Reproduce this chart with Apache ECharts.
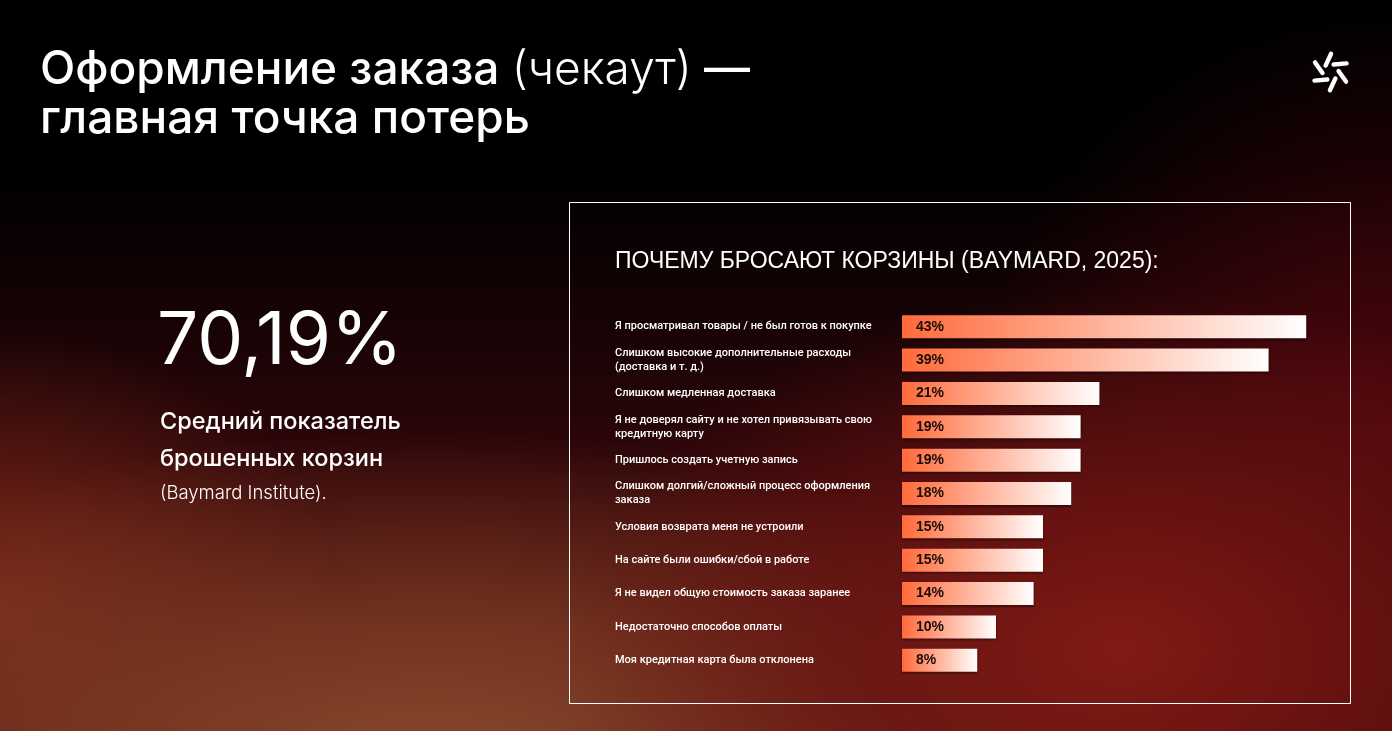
<!DOCTYPE html>
<html><head><meta charset="utf-8">
<script src="https://cdn.jsdelivr.net/npm/echarts@6/dist/echarts.min.js"></script>
<style>
html,body{margin:0;padding:0;width:1392px;height:731px;overflow:hidden;}
body{background:
 radial-gradient(ellipse 560px 360px at 1120px 650px, rgba(128,26,20,1) 0%, rgba(110,20,18,0.75) 45%, rgba(80,10,12,0) 100%),
 radial-gradient(ellipse 760px 340px at 430px 770px, rgba(136,74,46,1) 0%, rgba(125,60,36,0.8) 45%, rgba(110,40,25,0) 100%),
 radial-gradient(ellipse 340px 280px at 0px 610px, rgba(125,42,26,0.95) 0%, rgba(100,30,20,0) 100%),
 radial-gradient(ellipse 420px 420px at 1392px 430px, rgba(80,6,12,0.9) 0%, rgba(60,4,8,0) 100%),
 linear-gradient(180deg, #000 0%, #000 24%, #180305 45%, #36070a 70%, #460a0c 100%);}
#c{width:1392px;height:731px;}
</style></head>
<body><div id="c"></div>
<script>
const categories = [
  'Я просматривал товары / не был готов к покупке',
  'Слишком высокие дополнительные расходы\n(доставка и т. д.)',
  'Слишком медленная доставка',
  'Я не доверял сайту и не хотел привязывать свою\nкредитную карту',
  'Пришлось создать учетную запись',
  'Слишком долгий/сложный процесс оформления\nзаказа',
  'Условия возврата меня не устроили',
  'На сайте были ошибки/сбой в работе',
  'Я не видел общую стоимость заказа заранее',
  'Недостаточно способов оплаты',
  'Моя кредитная карта была отклонена'
];
const values = [43, 39, 21, 19, 19, 18, 15, 15, 14, 10, 8];
const titleLine1Bold = 'Оформление заказа ';
const titleLine1Light = '(чекаут)';
const titleLine1End = ' —';
const titleLine2 = 'главная точка потерь';
const bigNumber = '70,19%';
const bigNumberCaption = ['Средний показатель', 'брошенных корзин'];
const sourceNote = '(Baymard Institute).';
const chartTitle = 'ПОЧЕМУ БРОСАЮТ КОРЗИНЫ (BAYMARD, 2025):';

const chart = echarts.init(document.getElementById('c'), null, {renderer: 'canvas'});

// logo blades
const logo = [];
const cx = 1330.5, cy = 72, r = 12.5, half = 6.5;
for (let i = 0; i < 6; i++) {
  const th = (-100 + i * 60) * Math.PI / 180;
  const ph = th + 35 * Math.PI / 180;
  const mx = cx + r * Math.cos(th), my = cy + r * Math.sin(th);
  logo.push({
    type: 'line',
    shape: {x1: mx - half * Math.cos(ph), y1: my - half * Math.sin(ph), x2: mx + half * Math.cos(ph), y2: my + half * Math.sin(ph)},
    style: {stroke: '#ffffff', lineWidth: 4.4, lineCap: 'round'},
    silent: true
  });
}

const option = {
  backgroundColor: 'transparent',
  animation: false,
  grid: {left: 902, width: 470, top: 310, height: 367, containLabel: false},
  xAxis: {type: 'value', min: 0, max: 50, show: false},
  yAxis: {
    type: 'category', data: categories, inverse: true,
    axisLine: {show: false}, axisTick: {show: false}, splitLine: {show: false},
    axisLabel: {
      align: 'left', margin: 287, color: '#ffffff',
      fontFamily: 'Roboto', fontWeight: 500, fontSize: 11, lineHeight: 14,
      padding: [3, 0, 0, 0]
    }
  },
  series: [{
    type: 'bar', data: values, barWidth: 23,
    itemStyle: {
      color: new echarts.graphic.LinearGradient(0, 0, 1, 0, [
        {offset: 0, color: '#ff6a3a'},
        {offset: 1, color: '#ffffff'}
      ]),
      shadowColor: 'rgba(0,0,0,0.45)', shadowBlur: 2, shadowOffsetY: 1.5
    },
    label: {
      show: true, position: 'insideLeft', distance: 14,
      formatter: '{c}%', color: '#1a0a08',
      fontFamily: 'Liberation Sans', fontWeight: 'bold', fontSize: 14,
      padding: [2, 0, 0, 0]
    }
  }],
  graphic: [
    {type: 'text', left: 40, top: 47, silent: true,
     style: {
       text: '{b|' + titleLine1Bold + '}{l|' + titleLine1Light + '}{b|' + titleLine1End + '}',
       rich: {
         b: {fontFamily: 'Inter', fontWeight: 500, fontSize: 46, fill: '#fff', lineHeight: 50},
         l: {fontFamily: 'Inter', fontWeight: 300, fontSize: 46, fill: '#fff', lineHeight: 50}
       }
     }},
    {type: 'text', left: 40, top: 94, silent: true,
     style: {text: titleLine2, fontFamily: 'Inter', fontWeight: 500, fontSize: 46, fill: '#fff', lineHeight: 50}},
    {type: 'text', left: 157, top: 306, silent: true,
     style: {text: bigNumber, fontFamily: 'Inter', fontWeight: 400, fontSize: 73, fill: '#fff'}},
    {type: 'text', left: 160, top: 403, silent: true,
     style: {text: bigNumberCaption.join('\n'), fontFamily: 'Inter', fontWeight: 500, fontSize: 23.5, lineHeight: 37, fill: '#fff'}},
    {type: 'text', left: 160, top: 484, silent: true,
     style: {text: sourceNote, fontFamily: 'Inter', fontWeight: 300, fontSize: 18.5, fill: '#fff'}},
    {type: 'rect', silent: true, shape: {x: 569.5, y: 202.5, width: 781, height: 501},
     style: {fill: 'none', stroke: '#ffffff', lineWidth: 1}},
    {type: 'text', left: 615, top: 250, silent: true,
     style: {text: chartTitle, fontFamily: 'Liberation Sans', fontWeight: 400, fontSize: 23, fill: '#fff'}},
    {type: 'group', silent: true, children: logo}
  ]
};
chart.setOption(option);
</script>
</body></html>
